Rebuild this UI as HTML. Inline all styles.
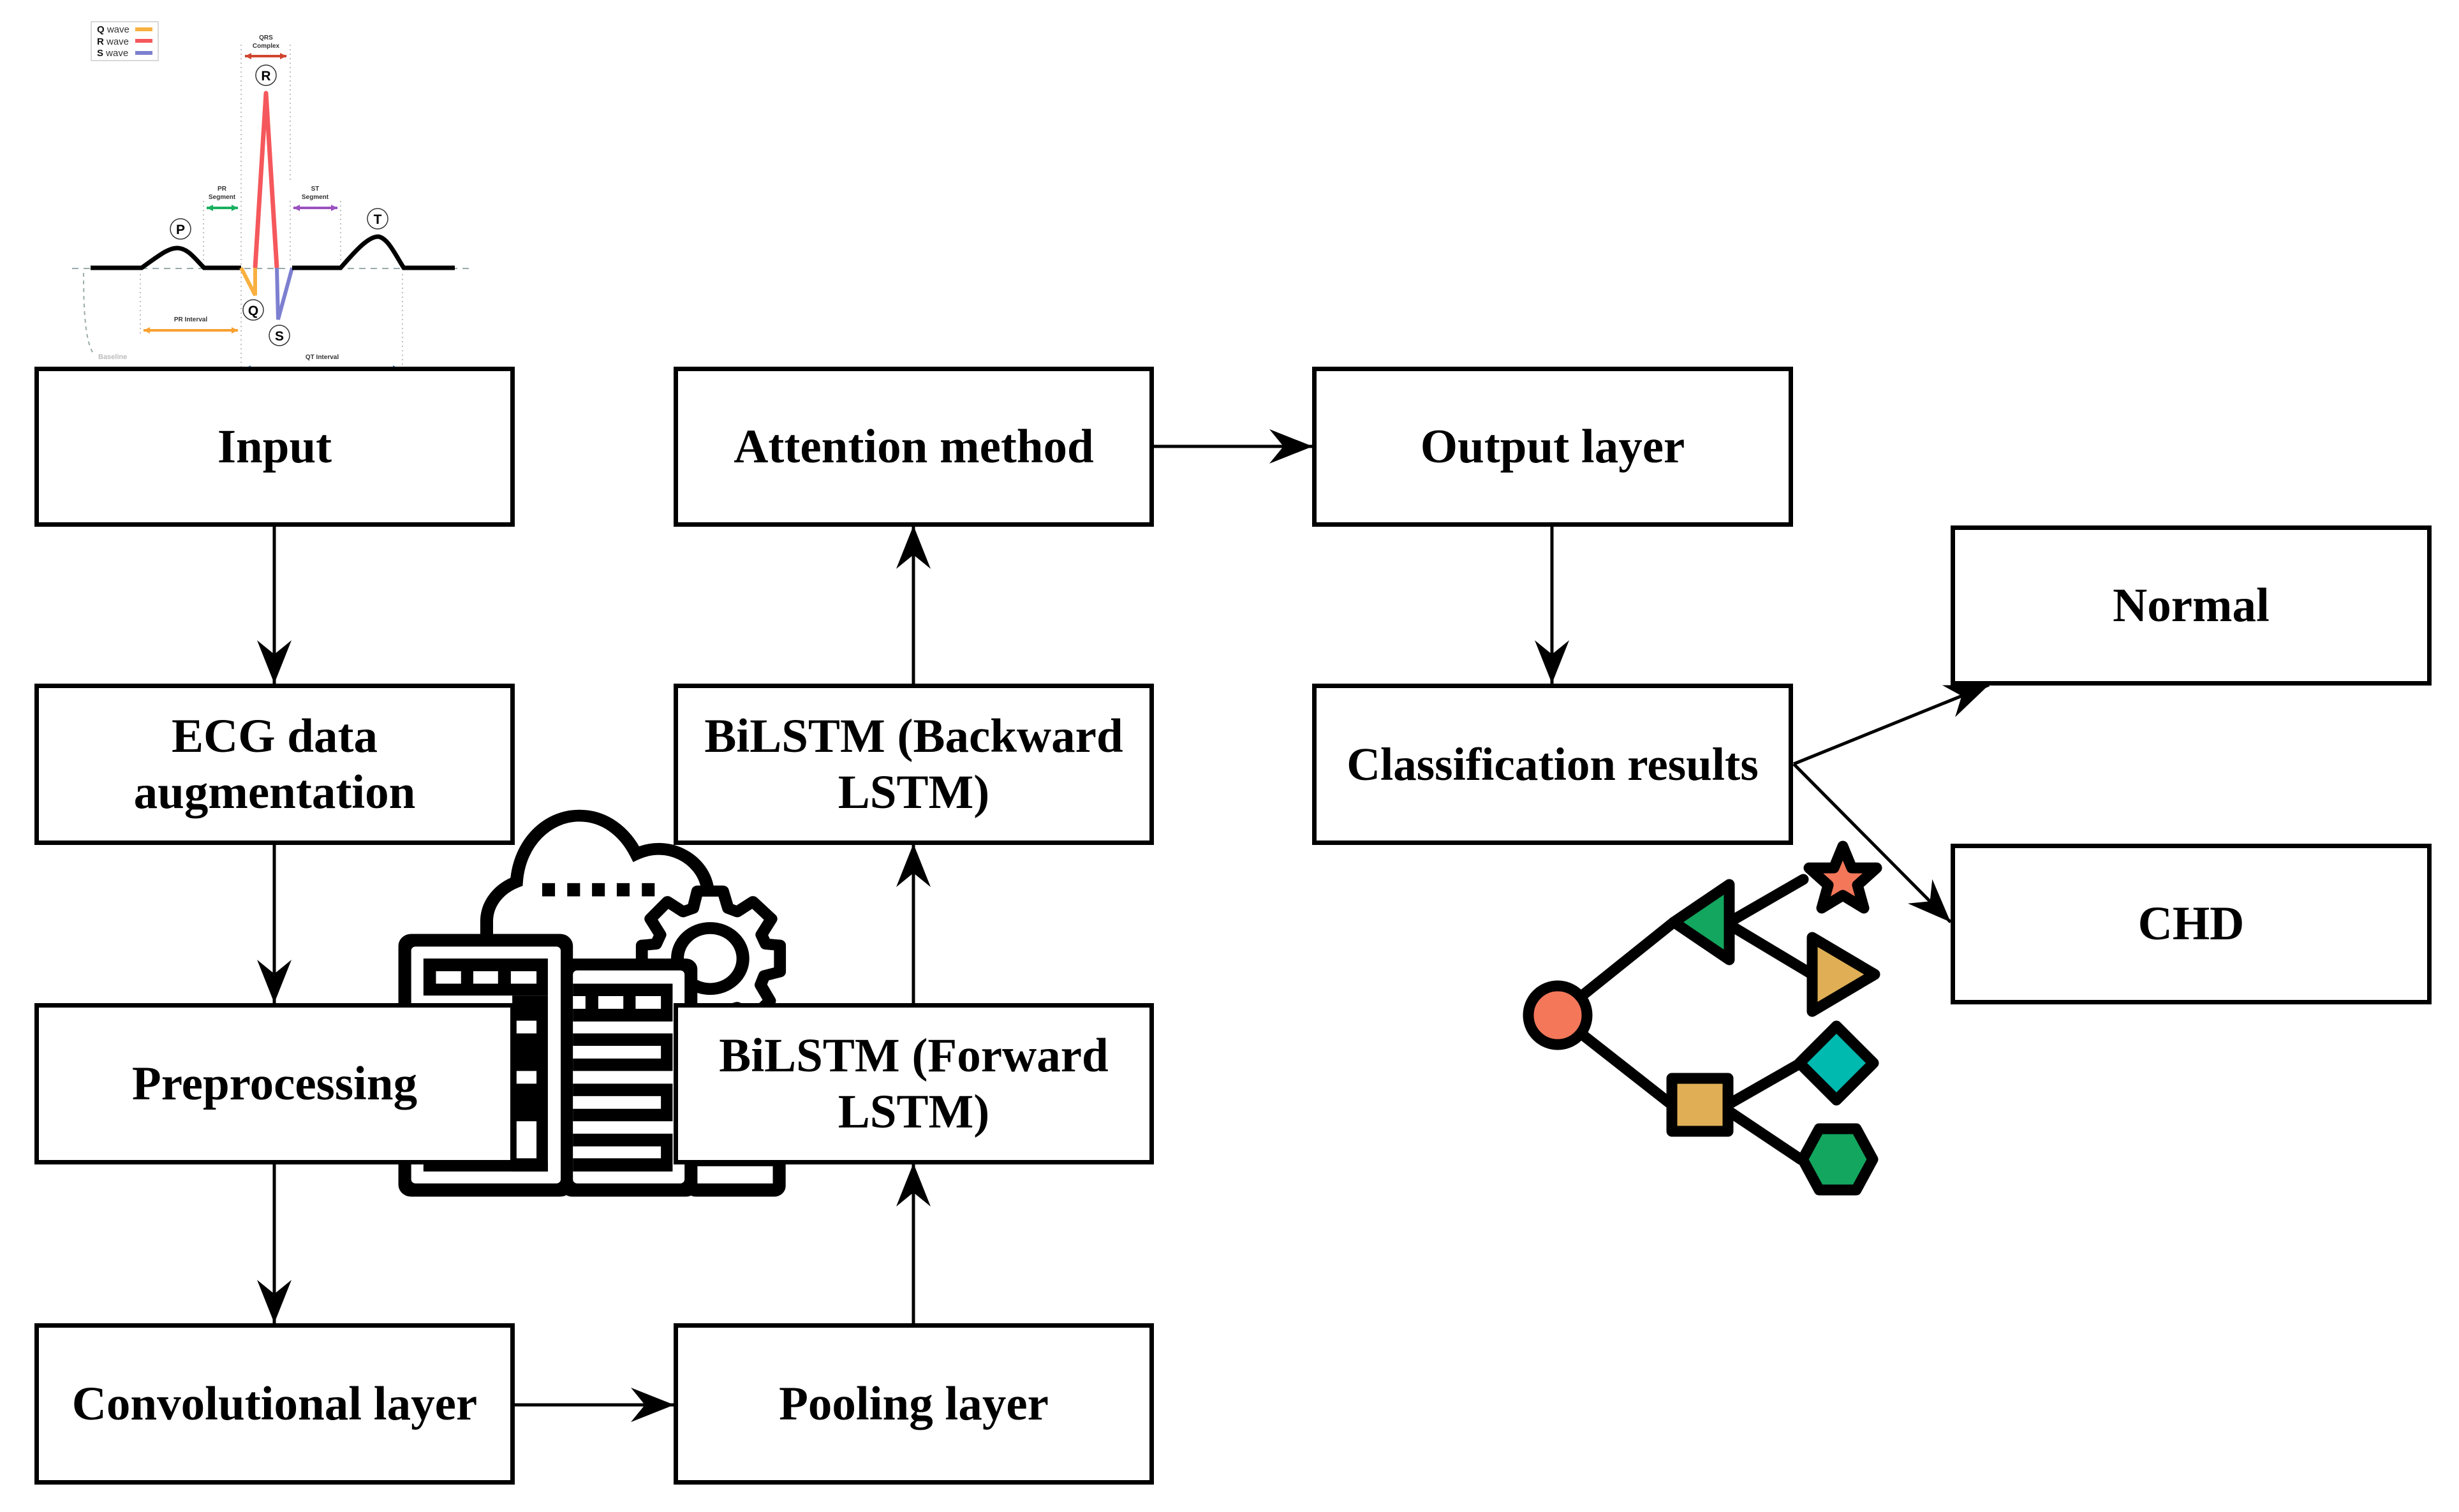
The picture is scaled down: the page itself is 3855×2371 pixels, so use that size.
<!DOCTYPE html>
<html><head><meta charset="utf-8">
<style>
html,body{margin:0;padding:0;background:#fff;}
body{width:3855px;height:2371px;position:relative;overflow:hidden;}
.b{position:absolute;box-sizing:border-box;border:7px solid #000;background:#fff;display:flex;align-items:center;justify-content:center;text-align:center;font-family:"Liberation Serif",serif;font-weight:bold;font-size:75px;line-height:88px;color:#000;z-index:2;}
svg{position:absolute;left:0;top:0;}
</style></head><body>
<svg width="3855" height="2371" viewBox="0 0 3855 2371" style="z-index:1">
<defs>
<marker id="ar" viewBox="-72 -30 74 60" refX="0" refY="0" markerWidth="74" markerHeight="60" markerUnits="userSpaceOnUse" orient="auto">
<path d="M0,0 L-68,-27 L-46,0 L-68,27 Z" fill="#000"/>
</marker>
<marker id="sa" viewBox="-12 -6 12 12" refX="0" refY="0" markerWidth="12" markerHeight="12" markerUnits="userSpaceOnUse" orient="auto-start-reverse">
<path d="M0,0 L-10,-5 L-10,5 Z" fill="context-stroke"/>
</marker>
</defs>
<!-- connectors -->
<g stroke="#000" stroke-width="5" fill="none">
<line x1="430" y1="824" x2="430" y2="1072" marker-end="url(#ar)"/>
<line x1="430" y1="1323" x2="430" y2="1573" marker-end="url(#ar)"/>
<line x1="430" y1="1824" x2="430" y2="2075" marker-end="url(#ar)"/>
<line x1="806" y1="2203" x2="1057" y2="2203" marker-end="url(#ar)"/>
<line x1="1432" y1="2075" x2="1432" y2="1824" marker-end="url(#ar)"/>
<line x1="1432" y1="1573" x2="1432" y2="1323" marker-end="url(#ar)"/>
<line x1="1432" y1="1072" x2="1432" y2="824" marker-end="url(#ar)"/>
<line x1="1809" y1="700" x2="2058" y2="700" marker-end="url(#ar)"/>
<line x1="2433" y1="824" x2="2433" y2="1072" marker-end="url(#ar)"/>
<line x1="2812" y1="1198" x2="3118" y2="1074" marker-end="url(#ar)"/>
<line x1="2812" y1="1198" x2="3058" y2="1446" marker-end="url(#ar)"/>
</g>

<!-- ECG -->
<g font-family="Liberation Sans,sans-serif">
<rect x="143" y="34" width="105" height="61" fill="#fff" stroke="#ccc" stroke-width="1.5"/>
<text x="152" y="51" font-size="15" fill="#333"><tspan font-weight="bold" fill="#111">Q</tspan> wave</text>
<text x="152" y="70" font-size="15" fill="#333"><tspan font-weight="bold" fill="#111">R</tspan> wave</text>
<text x="152" y="88" font-size="15" fill="#333"><tspan font-weight="bold" fill="#111">S</tspan> wave</text>
<rect x="212" y="43" width="27" height="6" fill="#f9b040"/>
<rect x="212" y="61" width="27" height="6" fill="#f5585c"/>
<rect x="212" y="80" width="27" height="6" fill="#7d7fd0"/>
<g stroke="#aaa" stroke-width="1.5" stroke-dasharray="2,5">
<line x1="378" y1="70" x2="378" y2="595"/><line x1="455" y1="70" x2="455" y2="285"/>
<line x1="319" y1="315" x2="319" y2="410"/><line x1="455" y1="315" x2="455" y2="410"/>
<line x1="534" y1="315" x2="534" y2="410"/><line x1="220" y1="430" x2="220" y2="525"/>
<line x1="631" y1="430" x2="631" y2="595"/>
</g>
<line x1="113" y1="421" x2="740" y2="421" stroke="#9aa" stroke-width="2" stroke-dasharray="10,8"/>
<path d="M131,428 C131,480 133,540 148,556" stroke="#9aa" stroke-width="2" stroke-dasharray="6,6" fill="none"/>
<text x="154" y="563" font-size="11" font-weight="bold" fill="#bbb">Baseline</text>
<path d="M142,420 L222,420 C250,400 265,388 279,389 C295,390 305,405 320,420 L378,420" stroke="#000" stroke-width="7" fill="none"/>
<path d="M378,420 L400,463 L400,420" stroke="#f9b040" stroke-width="6" fill="none"/>
<path d="M400,420 L417,146 L434,420" stroke="#f5585c" stroke-width="7" fill="none" stroke-linejoin="round"/>
<path d="M434,420 L436,501 L458,420" stroke="#7d7fd0" stroke-width="6" fill="none"/>
<path d="M458,420 L534,420 C560,390 578,371 593,371 C608,373 620,400 633,420 L713,420" stroke="#000" stroke-width="7" fill="none"/>
<g fill="#fff" stroke="#333" stroke-width="1.5">
<circle cx="283" cy="359" r="16"/><circle cx="417" cy="118" r="16"/><circle cx="592" cy="343" r="16"/>
<circle cx="397" cy="486" r="16"/><circle cx="438" cy="526" r="16"/>
</g>
<g font-size="21" font-weight="bold" text-anchor="middle">
<text x="283" y="367">P</text><text x="417" y="126">R</text><text x="592" y="351">T</text>
<text x="397" y="494">Q</text><text x="438" y="534">S</text>
</g>
<g stroke-width="4" fill="none">
<line x1="384" y1="88" x2="449" y2="88" stroke="#d0452e" marker-start="url(#sa)" marker-end="url(#sa)"/>
<line x1="324" y1="326" x2="373" y2="326" stroke="#1ab060" marker-start="url(#sa)" marker-end="url(#sa)"/>
<line x1="460" y1="326" x2="529" y2="326" stroke="#9b52c0" marker-start="url(#sa)" marker-end="url(#sa)"/>
<line x1="225" y1="518" x2="373" y2="518" stroke="#f9a030" marker-start="url(#sa)" marker-end="url(#sa)"/>
<line x1="383" y1="578" x2="626" y2="578" stroke="#1a75b8" marker-start="url(#sa)" marker-end="url(#sa)"/>
</g>
<g font-size="10" font-weight="bold" text-anchor="middle" fill="#333">
<text x="417" y="62">QRS</text><text x="417" y="75">Complex</text>
<text x="348" y="299">PR</text><text x="348" y="312">Segment</text>
<text x="494" y="299">ST</text><text x="494" y="312">Segment</text>
<text x="299" y="504">PR Interval</text>
<text x="505" y="563">QT Interval</text>
</g>
</g>

<!-- tree icon -->
<g stroke="#000" stroke-width="17" stroke-linejoin="round" stroke-linecap="round">
<line x1="2442" y1="1592" x2="2624" y2="1446"/>
<line x1="2442" y1="1592" x2="2619" y2="1731"/>
<line x1="2711" y1="1446" x2="2827" y2="1379"/>
<line x1="2711" y1="1450" x2="2841" y2="1528"/>
<line x1="2711" y1="1731" x2="2823" y2="1667"/>
<line x1="2711" y1="1743" x2="2823" y2="1818"/>
<circle cx="2442" cy="1592" r="46" fill="#f4775a"/>
<polygon points="2711,1387 2711,1505 2624,1446" fill="#12a65e"/>
<polygon points="2841,1470 2841,1586 2939,1528" fill="#e0af55"/>
<rect x="2621" y="1691" width="88" height="83" fill="#e0af55"/>
<polygon points="2879,1609 2937,1667 2879,1725 2821,1667" fill="#00b9af"/>
<polygon points="2852,1770 2910,1770 2936,1818 2910,1866 2852,1866 2826,1818" fill="#12a65e"/>
<polygon points="2889,1327 2903,1361 2942,1361 2912,1388 2922,1424 2889,1404 2856,1424 2866,1388 2836,1361 2875,1361" fill="#f4775a"/>
</g>

<!-- server/cloud icon -->
<g transform="matrix(0.4464,0,0,0.4149,600,1250)">
<path d="M365,530 L365,470 C365,400 410,345 470,320 C480,170 580,70 690,70 C780,70 850,130 890,215 C1000,160 1120,230 1140,340" stroke="#000" stroke-width="45" fill="none"/>
<g fill="#000"><rect x="560" y="325" width="45" height="50"/><rect x="648" y="325" width="45" height="50"/><rect x="735" y="325" width="45" height="50"/><rect x="822" y="325" width="45" height="50"/><rect x="910" y="325" width="45" height="50"/></g>
<polygon points="1105,355 1195,355 1213,420 1245,433 1300,395 1365,460 1330,520 1345,555 1395,560 1395,660 1340,675 1327,710 1360,770 1300,830 1245,795 1213,805 1195,865 1105,865 1090,805 1055,795 1000,830 940,770 975,710 960,675 910,660 910,560 960,555 975,520 940,460 1000,395 1055,433 1090,420" fill="#fff" stroke="#000" stroke-width="42" stroke-linejoin="round"/>
<circle cx="1150" cy="610" r="115" fill="#fff" stroke="#000" stroke-width="45"/>
<rect x="1060" y="1330" width="355" height="180" rx="40" fill="#000"/>
<rect x="1105" y="1395" width="265" height="65" fill="#fff"/>
<rect x="55" y="517" width="613" height="993" rx="45" fill="#000"/>
<rect x="100" y="565" width="525" height="895" rx="15" fill="#fff"/>
<rect x="625" y="610" width="480" height="900" rx="40" fill="#000"/>
<rect x="668" y="655" width="392" height="805" rx="15" fill="#fff"/>
<rect x="143" y="610" width="437" height="140" fill="#000"/>
<g fill="#fff"><rect x="187" y="658" width="88" height="47"/><rect x="318" y="658" width="87" height="47"/><rect x="450" y="658" width="90" height="47"/></g>
<rect x="455" y="750" width="125" height="665" fill="#000"/>
<rect x="143" y="1380" width="437" height="35" fill="#000"/>
<g fill="#fff"><rect x="470" y="845" width="70" height="48"/><rect x="470" y="1035" width="70" height="48"/><rect x="470" y="1225" width="70" height="140"/></g>
<rect x="668" y="705" width="350" height="710" fill="#000"/>
<g fill="#fff"><rect x="668" y="752" width="44" height="48"/><rect x="757" y="752" width="88" height="48"/><rect x="888" y="752" width="89" height="48"/>
<rect x="668" y="848" width="350" height="45"/><rect x="668" y="940" width="309" height="48"/><rect x="668" y="1035" width="350" height="48"/><rect x="668" y="1130" width="309" height="48"/><rect x="668" y="1225" width="350" height="47"/><rect x="668" y="1320" width="309" height="45"/></g>
</g>
</svg>

<div class="b" style="left:54px;top:575px;width:753px;height:251px;">Input</div>
<div class="b" style="left:54px;top:1072px;width:753px;height:253px;">ECG data<br>augmentation</div>
<div class="b" style="left:54px;top:1573px;width:753px;height:253px;">Preprocessing</div>
<div class="b" style="left:54px;top:2075px;width:753px;height:253px;">Convolutional layer</div>
<div class="b" style="left:1056px;top:575px;width:753px;height:251px;">Attention method</div>
<div class="b" style="left:1056px;top:1072px;width:753px;height:253px;">BiLSTM (Backward<br>LSTM)</div>
<div class="b" style="left:1056px;top:1573px;width:753px;height:253px;">BiLSTM (Forward<br>LSTM)</div>
<div class="b" style="left:1056px;top:2075px;width:753px;height:253px;">Pooling layer</div>
<div class="b" style="left:2057px;top:575px;width:754px;height:251px;">Output layer</div>
<div class="b" style="left:2057px;top:1072px;width:754px;height:253px;font-size:73px;">Classification results</div>
<div class="b" style="left:3058px;top:824px;width:754px;height:251px;">Normal</div>
<div class="b" style="left:3058px;top:1323px;width:754px;height:252px;">CHD</div>
</body></html>
